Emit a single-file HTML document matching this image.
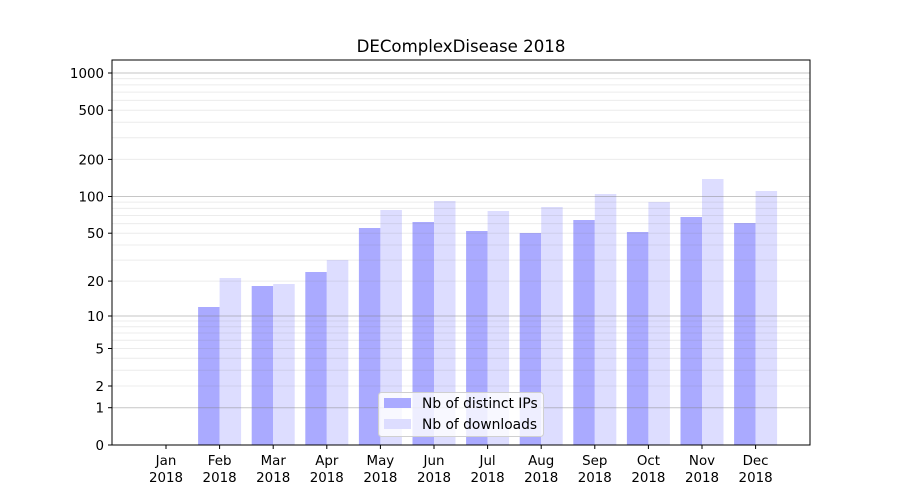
<!DOCTYPE html>
<html><head><meta charset="utf-8"><style>body{margin:0;background:#fff}svg{display:block}text{font-family:"DejaVu Sans","Liberation Sans",sans-serif;fill:#000}</style></head>
<body>
<svg width="900" height="500" viewBox="0 0 900 500" xmlns="http://www.w3.org/2000/svg">
<rect width="900" height="500" fill="#fff"/>
<text x="461" y="52" font-size="16.6" text-anchor="middle">DEComplexDisease 2018</text>
<g id="bars">
<rect x="198.1" y="307" width="21.5" height="138" fill="#aaaaff"/><rect x="219.6" y="278" width="21.5" height="167" fill="#ddddff"/>
<rect x="251.7" y="286" width="21.5" height="159" fill="#aaaaff"/><rect x="273.2" y="284" width="21.5" height="161" fill="#ddddff"/>
<rect x="305.3" y="272" width="21.5" height="173" fill="#aaaaff"/><rect x="326.8" y="260" width="21.5" height="185" fill="#ddddff"/>
<rect x="358.9" y="228" width="21.5" height="217" fill="#aaaaff"/><rect x="380.4" y="210" width="21.5" height="235" fill="#ddddff"/>
<rect x="412.5" y="222" width="21.5" height="223" fill="#aaaaff"/><rect x="434" y="201" width="21.5" height="244" fill="#ddddff"/>
<rect x="466.1" y="231" width="21.5" height="214" fill="#aaaaff"/><rect x="487.6" y="211" width="21.5" height="234" fill="#ddddff"/>
<rect x="519.7" y="233" width="21.5" height="212" fill="#aaaaff"/><rect x="541.2" y="207" width="21.5" height="238" fill="#ddddff"/>
<rect x="573.3" y="220" width="21.5" height="225" fill="#aaaaff"/><rect x="594.8" y="194" width="21.5" height="251" fill="#ddddff"/>
<rect x="626.9" y="232" width="21.5" height="213" fill="#aaaaff"/><rect x="648.4" y="202" width="21.5" height="243" fill="#ddddff"/>
<rect x="680.5" y="217" width="21.5" height="228" fill="#aaaaff"/><rect x="702" y="179" width="21.5" height="266" fill="#ddddff"/>
<rect x="734.1" y="223" width="21.5" height="222" fill="#aaaaff"/><rect x="755.6" y="191" width="21.5" height="254" fill="#ddddff"/>
</g>
<g stroke="rgba(128,128,128,0.15)" stroke-width="1">
<line x1="112" x2="810" y1="386" y2="386"/><line x1="112" x2="810" y1="370.3" y2="370.3"/><line x1="112" x2="810" y1="358.3" y2="358.3"/><line x1="112" x2="810" y1="348.5" y2="348.5"/><line x1="112" x2="810" y1="340.2" y2="340.2"/><line x1="112" x2="810" y1="333" y2="333"/><line x1="112" x2="810" y1="326.7" y2="326.7"/><line x1="112" x2="810" y1="321" y2="321"/>
<line x1="112" x2="810" y1="281.1" y2="281.1"/><line x1="112" x2="810" y1="260.1" y2="260.1"/><line x1="112" x2="810" y1="245" y2="245"/><line x1="112" x2="810" y1="233.2" y2="233.2"/><line x1="112" x2="810" y1="223.6" y2="223.6"/><line x1="112" x2="810" y1="215.5" y2="215.5"/><line x1="112" x2="810" y1="208.4" y2="208.4"/><line x1="112" x2="810" y1="202.1" y2="202.1"/>
<line x1="112" x2="810" y1="159.4" y2="159.4"/><line x1="112" x2="810" y1="137.7" y2="137.7"/><line x1="112" x2="810" y1="122.2" y2="122.2"/><line x1="112" x2="810" y1="110.2" y2="110.2"/><line x1="112" x2="810" y1="100.4" y2="100.4"/><line x1="112" x2="810" y1="92.1" y2="92.1"/><line x1="112" x2="810" y1="84.9" y2="84.9"/><line x1="112" x2="810" y1="78.6" y2="78.6"/>
</g>
<g stroke="rgba(128,128,128,0.45)" stroke-width="1">
<line x1="112" x2="810" y1="407.7" y2="407.7"/><line x1="112" x2="810" y1="316" y2="316"/><line x1="112" x2="810" y1="196.5" y2="196.5"/><line x1="112" x2="810" y1="73" y2="73"/>
</g>
<rect x="112" y="60" width="698" height="385" fill="none" stroke="#000" stroke-width="1"/>
<g stroke="#000" stroke-width="1">
<line x1="108" x2="112" y1="445" y2="445"/><line x1="108" x2="112" y1="407.7" y2="407.7"/><line x1="108" x2="112" y1="386" y2="386"/><line x1="108" x2="112" y1="348.5" y2="348.5"/><line x1="108" x2="112" y1="316" y2="316"/><line x1="108" x2="112" y1="281.1" y2="281.1"/><line x1="108" x2="112" y1="233.2" y2="233.2"/><line x1="108" x2="112" y1="196.5" y2="196.5"/><line x1="108" x2="112" y1="159.4" y2="159.4"/><line x1="108" x2="112" y1="110.2" y2="110.2"/><line x1="108" x2="112" y1="73" y2="73"/>
</g>
<g font-size="13.4" text-anchor="end">
<text x="104" y="450">0</text><text x="104" y="412.5">1</text><text x="104" y="391">2</text><text x="104" y="353.5">5</text><text x="104" y="321">10</text><text x="104" y="286">20</text><text x="104" y="238">50</text><text x="104" y="201.5">100</text><text x="104" y="164.5">200</text><text x="104" y="115">500</text><text x="104" y="78">1000</text>
</g>
<g stroke="#000" stroke-width="1">
<line x1="166" x2="166" y1="445" y2="449"/><line x1="219.6" x2="219.6" y1="445" y2="449"/><line x1="273.2" x2="273.2" y1="445" y2="449"/><line x1="326.8" x2="326.8" y1="445" y2="449"/><line x1="380.4" x2="380.4" y1="445" y2="449"/><line x1="434" x2="434" y1="445" y2="449"/><line x1="487.6" x2="487.6" y1="445" y2="449"/><line x1="541.2" x2="541.2" y1="445" y2="449"/><line x1="594.8" x2="594.8" y1="445" y2="449"/><line x1="648.4" x2="648.4" y1="445" y2="449"/><line x1="702" x2="702" y1="445" y2="449"/><line x1="755.6" x2="755.6" y1="445" y2="449"/>
</g>
<g font-size="13.4" text-anchor="middle">
<text x="166" y="465">Jan</text><text x="166" y="482">2018</text>
<text x="219.6" y="465">Feb</text><text x="219.6" y="482">2018</text>
<text x="273.2" y="465">Mar</text><text x="273.2" y="482">2018</text>
<text x="326.8" y="465">Apr</text><text x="326.8" y="482">2018</text>
<text x="380.4" y="465">May</text><text x="380.4" y="482">2018</text>
<text x="434" y="465">Jun</text><text x="434" y="482">2018</text>
<text x="487.6" y="465">Jul</text><text x="487.6" y="482">2018</text>
<text x="541.2" y="465">Aug</text><text x="541.2" y="482">2018</text>
<text x="594.8" y="465">Sep</text><text x="594.8" y="482">2018</text>
<text x="648.4" y="465">Oct</text><text x="648.4" y="482">2018</text>
<text x="702" y="465">Nov</text><text x="702" y="482">2018</text>
<text x="755.6" y="465">Dec</text><text x="755.6" y="482">2018</text>
</g>
<rect x="378.5" y="392.5" width="165" height="44" rx="3" fill="rgba(255,255,255,0.8)" stroke="#d0d0d0"/>
<rect x="384" y="398" width="27" height="10" fill="#aaaaff"/>
<rect x="384" y="419" width="27" height="10" fill="#ddddff"/>
<g font-size="13.8"><text x="422" y="408">Nb of distinct IPs</text><text x="422" y="429">Nb of downloads</text></g>
</svg>
</body></html>
